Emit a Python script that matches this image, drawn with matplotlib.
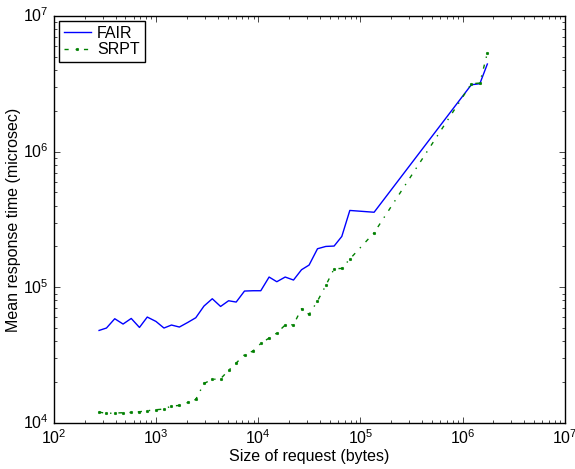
import matplotlib
matplotlib.use("Agg")
import matplotlib.pyplot as plt

# request sizes (bytes), shared by both policies
size = [276, 326, 393, 474, 570, 686, 818, 995, 1192, 1412,
        1688, 2039, 2443, 2939, 3544, 4274, 5118, 6075, 7328, 8895,
        10580, 12760, 15180, 18340, 22120, 26500, 31450, 38000, 45830, 55260,
        65730, 78760, 136200, 1220000, 1477000, 1750000]

# mean response time (microsec)
fair = [48130, 50130, 58700, 53640, 58990, 50640, 60400, 56080, 50130, 52750,
        50990, 55130, 59700, 72800, 82400, 72300, 79650, 77900, 93900, 94400,
        94400, 119100, 110000, 119100, 113200, 134800, 146000, 192500, 200200, 201500,
        237200, 368700, 357600, 3112000, 3165000, 4423000]

srpt = [12050, 11770, 11850, 11910, 11970, 12110, 12320, 12530, 12680, 13350,
        13480, 14180, 14930, 19580, 20960, 21210, 24410, 27680, 31860, 33990,
        38600, 42300, 46050, 52750, 53020, 69550, 63150, 79250, 103300, 137100,
        137800, 161700, 252600, 3165000, 3202000, 5330000]

plt.style.use("classic")
plt.rcParams["font.family"] = "Liberation Sans"
plt.rcParams["font.size"] = 11.5
plt.rcParams["mathtext.fontset"] = "custom"
plt.rcParams["mathtext.rm"] = "Liberation Sans"
plt.rcParams["mathtext.it"] = "Liberation Sans:italic"
plt.rcParams["mathtext.bf"] = "Liberation Sans:bold"

fig = plt.figure(figsize=(5.75, 4.69), dpi=100, facecolor="white")
ax = fig.add_axes([0.094, 0.098, 0.888, 0.868])
ax.set_facecolor("white")

ax.loglog(size, fair, "b-", lw=1, label="FAIR")
ax.loglog(size, srpt, "g-.", marker=".", ms=3.5, lw=1, label="SRPT")

ax.set_xlim(1e2, 1e7)
ax.set_ylim(1e4, 1e7)
ax.set_xlabel("Size of request (bytes)", labelpad=1)
ax.set_ylabel("Mean response time (microsec)", labelpad=1)
ax.tick_params(labelsize=11.5)

ax.legend(loc="upper left", numpoints=1, fontsize=11.5, borderaxespad=0.3,
          handlelength=1.7, borderpad=0.3, labelspacing=0.1, handletextpad=0.4)

fig.savefig("out.png", dpi=100, facecolor="white")
